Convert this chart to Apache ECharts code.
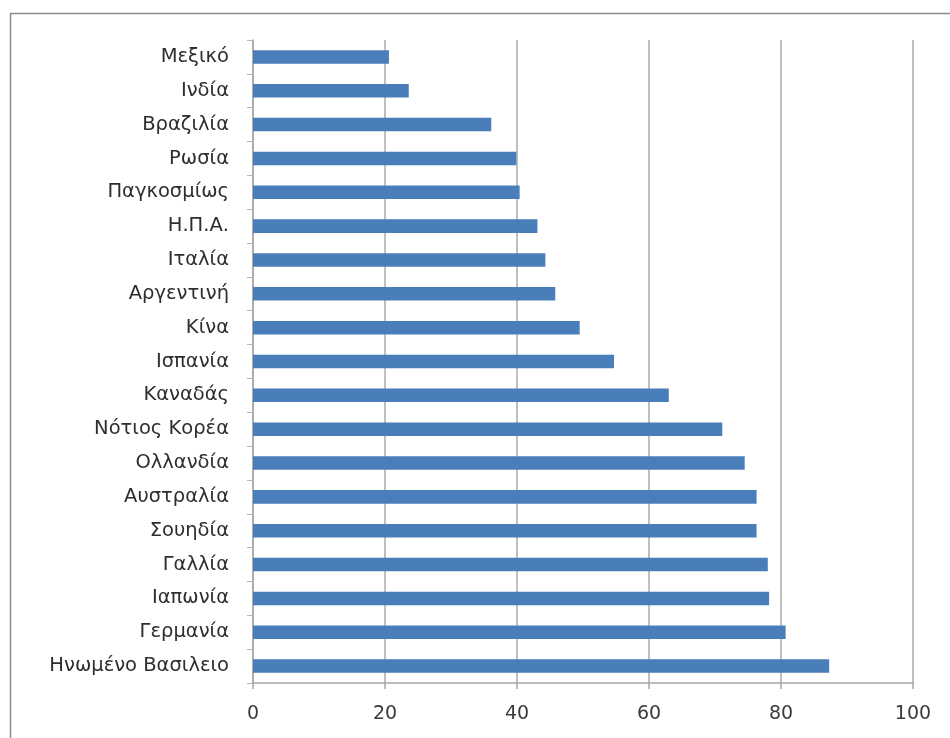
<!DOCTYPE html>
<html>
<head>
<meta charset="utf-8">
<script src="https://cdn.jsdelivr.net/npm/echarts@6/dist/echarts.min.js"></script>
<style>
html,body{margin:0;padding:0;background:#fff;}
#chart{width:950px;height:738px;}
</style>
</head>
<body>
<div id="chart"></div>
<script>
const categories = ["Μεξικό","Ινδία","Βραζιλία","Ρωσία","Παγκοσμίως","Η.Π.Α.","Ιταλία","Αργεντινή","Κίνα","Ισπανία","Καναδάς","Νότιος Κορέα","Ολλανδία","Αυστραλία","Σουηδία","Γαλλία","Ιαπωνία","Γερμανία","Ηνωμένο Βασιλειο"];
const values = [20.6,23.6,36.1,39.9,40.4,43.1,44.3,45.8,49.5,54.7,63.0,71.1,74.5,76.3,76.3,78.0,78.2,80.7,87.3];
const xTicks = [0,20,40,60,80,100];

const chart = echarts.init(document.getElementById('chart'));
const font = "'DejaVu Sans', 'Noto Sans', sans-serif";
chart.setOption({
  animation: false,
  backgroundColor: '#fff',
  graphic: [{
    type: 'rect',
    shape: {x: 10.5, y: 13.5, width: 960, height: 760},
    style: {fill: 'none', stroke: '#8c8c8c', lineWidth: 1.5},
    z: -1
  }],
  grid: {left: 253, right: 37, top: 40, bottom: 55, containLabel: false},
  xAxis: {
    type: 'value',
    min: xTicks[0], max: xTicks[xTicks.length-1], interval: 20,
    axisLine: {show: true, lineStyle: {color: '#a6a6a6', width: 1.5}},
    axisTick: {show: true, length: 6, lineStyle: {color: '#a6a6a6', width: 1.5}},
    splitLine: {show: true, lineStyle: {color: '#bfbfbf', width: 2}},
    axisLabel: {color: '#3a3a3a', fontSize: 19, fontFamily: font, margin: 22}
  },
  yAxis: {
    type: 'category',
    data: categories,
    inverse: true,
    axisLine: {show: true, lineStyle: {color: '#a6a6a6', width: 1.5}},
    axisTick: {show: true, length: 6, lineStyle: {color: '#c8b09a', width: 1}},
    axisLabel: {color: '#2e2e2e', fontSize: 19.5, fontFamily: font, margin: 24}
  },
  series: [{
    type: 'bar',
    data: values,
    barWidth: '40%',
    itemStyle: {color: '#4a7ebb'}
  }]
});
</script>
</body>
</html>
